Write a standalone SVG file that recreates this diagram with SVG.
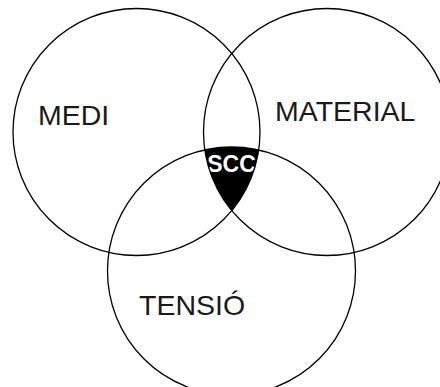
<svg xmlns="http://www.w3.org/2000/svg" width="440" height="387" viewBox="0 0 440 387">
<style>
.c{fill:none;stroke:#000;stroke-width:1.3}
.lbl{font-family:"Liberation Sans",Arial,sans-serif;font-size:28.5px;fill:#1a1a1a}
.scc{font-family:"Liberation Sans",Arial,sans-serif;font-size:23px;font-weight:bold;fill:#fff}
</style>
<defs>
<clipPath id="cl"><circle cx="136.5" cy="132" r="123.5"/></clipPath>
<clipPath id="cr"><circle cx="327" cy="132" r="123.5"/></clipPath>
</defs>
<rect width="440" height="387" fill="#fff"/>
<g id="scc">
<g clip-path="url(#cl)"><circle cx="231.5" cy="271" r="124" fill="#000" clip-path="url(#cr)"/></g>
<text class="scc" x="231.5" y="172" text-anchor="middle">SCC</text>
</g>
<g id="medi">
<circle class="c" cx="136.5" cy="132" r="123.5"/>
<text class="lbl" x="38" y="125">MEDI</text>
</g>
<g id="material">
<circle class="c" cx="327" cy="132" r="123.5"/>
<text class="lbl" x="275" y="121">MATERIAL</text>
</g>
<g id="tensio">
<circle class="c" cx="231.5" cy="271" r="124"/>
<text class="lbl" x="139" y="315">TENSIÓ</text>
</g>
<g id="connectors"/>
</svg>
